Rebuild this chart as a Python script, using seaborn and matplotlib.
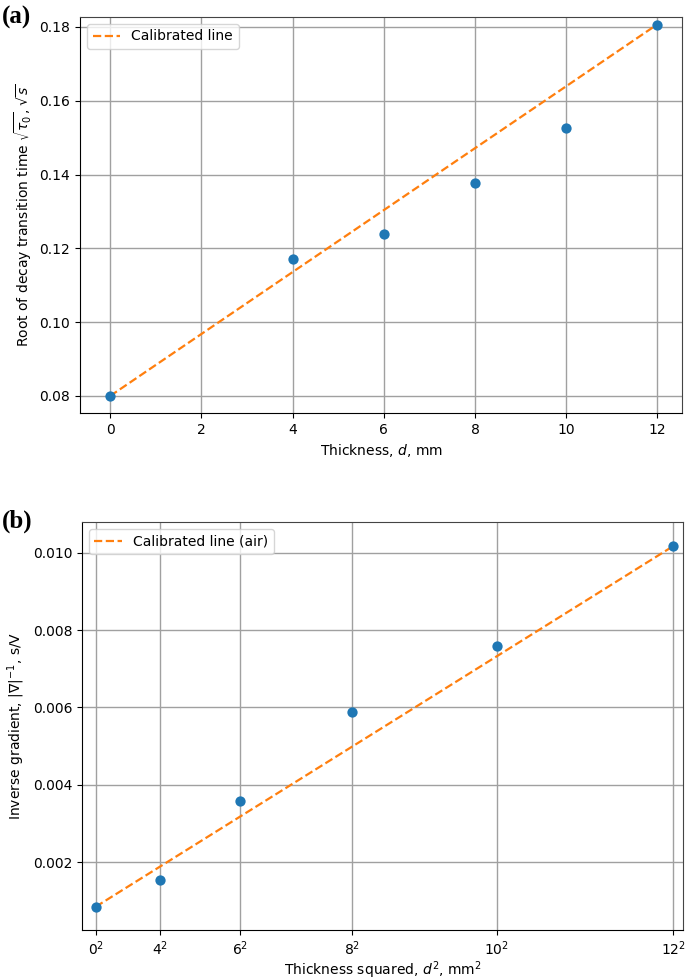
import numpy as np
import pandas as pd
import matplotlib
matplotlib.use("Agg")
import matplotlib.pyplot as plt
import seaborn as sns

# measured data
thickness = [0, 4, 6, 8, 10, 12]                      # mm
root_tau = [0.0800, 0.1171, 0.1240, 0.1376, 0.1525, 0.1806]
inv_grad = [0.00085, 0.00154, 0.00359, 0.00589, 0.00759, 0.01017]

# calibrated lines (end points)
cal_a_x = [0, 12]
cal_a_y = [0.0800, 0.1807]
cal_b_x = [0, 144]
cal_b_y = [0.00085, 0.01017]

thick_sq = [d ** 2 for d in thickness]
sq_labels = [f"${d}^2$" for d in thickness]

BLUE = "#1f77b4"
ORANGE = "#ff7f0e"
GRID = "#a0a0a0"

fig = plt.figure(figsize=(6.85, 9.8), dpi=100)
ax1 = fig.add_axes([0.1168, 0.5786, 0.8788, 0.4041])
ax2 = fig.add_axes([0.1197, 0.0510, 0.8773, 0.4163])

df_a = pd.DataFrame({"x": thickness, "y": root_tau})
df_b = pd.DataFrame({"x": thick_sq, "y": inv_grad})

# (a)
sns.lineplot(x=cal_a_x, y=cal_a_y, ax=ax1, color=ORANGE, linestyle="--",
             linewidth=1.6, label="Calibrated line", zorder=2)
sns.scatterplot(data=df_a, x="x", y="y", ax=ax1, color=BLUE, s=55,
                linewidth=0, zorder=3)
ax1.set_xlim(-0.66, 12.54)
ax1.set_ylim(0.0754, 0.1827)
ax1.set_xticks(np.arange(0, 13, 2))
ax1.set_yticks([0.08, 0.10, 0.12, 0.14, 0.16, 0.18])
ax1.set_xlabel("Thickness, $d$, mm")
ax1.set_ylabel(r"Root of decay transition time $\sqrt{\tau_0}$, $\sqrt{s}$")
ax1.legend(loc="upper left")

# (b)
sns.lineplot(x=cal_b_x, y=cal_b_y, ax=ax2, color=ORANGE, linestyle="--",
             linewidth=1.6, label="Calibrated line (air)", zorder=2)
sns.scatterplot(data=df_b, x="x", y="y", ax=ax2, color=BLUE, s=55,
                linewidth=0, zorder=3)
ax2.set_xlim(-3.4, 146.4)
ax2.set_ylim(0.00025, 0.01079)
ax2.set_xticks(thick_sq)
ax2.set_xticklabels(sq_labels)
ax2.set_yticks([0.002, 0.004, 0.006, 0.008, 0.010])
ax2.set_xlabel("Thickness squared, $d^2$, mm$^2$", labelpad=1)
ax2.set_ylabel(r"Inverse gradient, $|\nabla|^{-1}$, s/V")
ax2.legend(loc="upper left")

for ax in (ax1, ax2):
    ax.grid(True, color=GRID, linewidth=1.0)
    ax.set_axisbelow(True)
    for sp in ax.spines.values():
        sp.set_color("#444444")
    ax.spines["left"].set_color("black")
    ax.spines["bottom"].set_color("black")

fig.text(0.003, 0.982, "(a)", fontsize=18, fontweight="bold",
         family="Liberation Serif", ha="left", va="center")
fig.text(0.003, 0.468, "(b)", fontsize=18, fontweight="bold",
         family="Liberation Serif", ha="left", va="center")

fig.savefig("out.png", dpi=100)
